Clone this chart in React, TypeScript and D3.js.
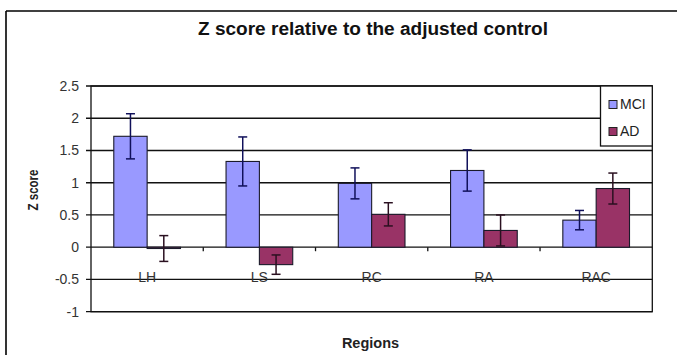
import React from "react";
import * as d3 from "d3";

const categories = ["LH", "LS", "RC", "RA", "RAC"];
const series = ["MCI", "AD"];
const mciValues = [1.72, 1.33, 0.99, 1.19, 0.42];
const mciErrors = [0.35, 0.38, 0.24, 0.32, 0.15];
const adValues = [-0.02, -0.27, 0.51, 0.26, 0.91];
const adErrors = [0.2, 0.15, 0.18, 0.24, 0.24];
const yTicks = [2.5, 2, 1.5, 1, 0.5, 0, -0.5, -1];
const yTickLabels = ["2.5", "2", "1.5", "1", "0.5", "0", "-0.5", "-1"];

const colors: Record<string, string> = { MCI: "#9999FF", AD: "#993366" };
const errColors: Record<string, string> = { MCI: "#10105a", AD: "#2a1020" };

export default function App() {
  const W = 677, H = 355;
  const left = 91, right = 652.3, top = 86, bottom = 311.7;
  const y = d3.scaleLinear().domain([-1, 2.5]).range([bottom, top]);
  const x = d3.scaleBand<string>().domain(categories).range([left, right]).padding(0);
  const bw = x.bandwidth();
  const x1 = d3.scaleBand<string>().domain(series).range([bw * 0.203, bw * 0.797]).padding(0);
  const data = series.map((s) => ({
    s,
    vals: s === "MCI" ? mciValues : adValues,
    errs: s === "MCI" ? mciErrors : adErrors,
  }));
  const font = "Arial, 'Liberation Sans', sans-serif";
  const cap = 4.5;
  const grid = "#111";

  return (
    <svg width={W} height={H} style={{ position: "absolute", left: 0, top: 0, background: "#fff" }}>
      <rect x={0} y={0} width={W} height={H} fill="#fff" />
      {/* outer frame */}
      <line x1={6} x2={W} y1={11} y2={11} stroke="#000" strokeWidth={1.6} />
      <line x1={6} x2={6} y1={11} y2={H} stroke="#000" strokeWidth={1.6} />
      {/* title */}
      <text x={373} y={35} textAnchor="middle" fontFamily={font} fontWeight="bold" fontSize={17.5}
        textLength={350} lengthAdjust="spacingAndGlyphs" fill="#111">
        Z score relative to the adjusted control
      </text>
      {/* gridlines */}
      {yTicks.map((t, i) => (
        <g key={"g" + i}>
          <line x1={left - 5} x2={right} y1={y(t)} y2={y(t)} stroke={grid} strokeWidth={1.3} />
          <text x={79} y={y(t)} dy="0.35em" textAnchor="end" fontFamily={font} fontSize={14} fill="#333">
            {yTickLabels[i]}
          </text>
        </g>
      ))}
      {/* plot frame */}
      <rect x={left} y={top} width={right - left} height={bottom - top} fill="none" stroke={grid} strokeWidth={1.3} />
      {/* category ticks */}
      {categories.slice(1).map((c) => (
        <line key={"t" + c} x1={x(c)!} x2={x(c)!} y1={y(0)} y2={y(0) + 4} stroke={grid} strokeWidth={1.3} />
      ))}
      {/* bars */}
      {data.map((d) =>
        categories.map((c, i) => {
          const v = d.vals[i];
          const bx = x(c)! + x1(d.s)!;
          const w = x1.bandwidth();
          const y0 = y(Math.max(0, v));
          const h = Math.abs(y(v) - y(0));
          return (
            <rect key={d.s + c} x={bx} y={y0} width={w} height={Math.max(h, 1)} fill={colors[d.s]} stroke="#1a1a2a" strokeWidth={1.1} />
          );
        })
      )}
      {/* error bars */}
      {data.map((d) =>
        categories.map((c, i) => {
          const v = d.vals[i];
          const e = d.errs[i];
          const cx = x(c)! + x1(d.s)! + x1.bandwidth() / 2;
          const col = errColors[d.s];
          return (
            <g key={"e" + d.s + c} stroke={col} strokeWidth={1.5}>
              <line x1={cx} x2={cx} y1={y(v + e)} y2={y(v - e)} />
              <line x1={cx - cap} x2={cx + cap} y1={y(v + e)} y2={y(v + e)} />
              <line x1={cx - cap} x2={cx + cap} y1={y(v - e)} y2={y(v - e)} />
            </g>
          );
        })
      )}
      {/* category labels */}
      {categories.map((c) => (
        <text key={"l" + c} x={x(c)! + bw / 2} y={y(-0.5) - 2} dy="0.35em" textAnchor="middle" fontFamily={font} fontSize={14} fill="#333">
          {c}
        </text>
      ))}
      {/* axis titles */}
      <text transform={`translate(38,190) rotate(-90)`} textAnchor="middle" fontFamily={font} fontWeight="bold" fontSize={15}
        textLength={41} lengthAdjust="spacingAndGlyphs" fill="#222">
        Z score
      </text>
      <text x={370.5} y={347.5} textAnchor="middle" fontFamily={font} fontWeight="bold" fontSize={14.5} fill="#222">
        Regions
      </text>
      {/* legend */}
      <rect x={600.5} y={86} width={51.8} height={60} fill="#fff" stroke={grid} strokeWidth={1.3} />
      {series.map((s, i) => (
        <g key={"lg" + s}>
          <rect x={609} y={100.5 + i * 27} width={8} height={8} fill={colors[s]} stroke="#222" strokeWidth={1} />
          <text x={620} y={104.5 + i * 27} dy="0.35em" fontFamily={font} fontSize={14} fill="#222">
            {s}
          </text>
        </g>
      ))}
    </svg>
  );
}
